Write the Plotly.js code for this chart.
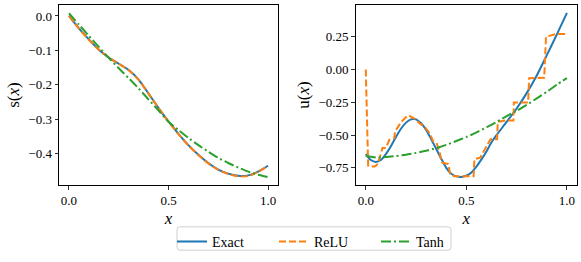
<!DOCTYPE html>
<html>
<head>
<meta charset="utf-8">
<script src="https://cdn.plot.ly/plotly-3.0.1.min.js"></script>
<style>html,body{margin:0;padding:0;background:#fff;}#chart{width:581px;height:262px;}</style>
</head>
<body>
<div id="chart"></div>
<script>
// Left panel: s(x)
const xsLeft = [0, 0.05, 0.1, 0.15, 0.2, 0.25, 0.3, 0.35, 0.4, 0.45, 0.5, 0.55, 0.6, 0.65, 0.7, 0.75, 0.8, 0.85, 0.9, 0.95, 1.0];
const sExact = [0, -0.036, -0.068, -0.098, -0.121, -0.139, -0.157, -0.185, -0.226, -0.268, -0.307, -0.343, -0.376, -0.404, -0.428, -0.447, -0.459, -0.465, -0.464, -0.453, -0.436];
const sRelu  = [0, -0.037, -0.069, -0.098, -0.121, -0.139, -0.158, -0.186, -0.226, -0.268, -0.308, -0.344, -0.377, -0.405, -0.429, -0.448, -0.460, -0.467, -0.466, -0.454, -0.436];
const sTanh  = [0.008, -0.025, -0.058, -0.090, -0.122, -0.152, -0.181, -0.211, -0.243, -0.275, -0.308, -0.332, -0.355, -0.376, -0.395, -0.413, -0.428, -0.441, -0.453, -0.462, -0.469];

// Right panel: u(x)
const xsExactR = [0, 0.025, 0.05, 0.075, 0.1, 0.125, 0.15, 0.175, 0.2, 0.225, 0.25, 0.275, 0.3, 0.325, 0.35, 0.375, 0.4, 0.425, 0.45, 0.475, 0.5, 0.525, 0.55, 0.575, 0.6, 0.625, 0.65, 0.7, 0.75, 0.8, 0.85, 0.9, 0.95, 1.0];
const uExact = [-0.645, -0.69, -0.705, -0.69, -0.645, -0.585, -0.515, -0.452, -0.405, -0.38, -0.38, -0.41, -0.46, -0.53, -0.605, -0.68, -0.75, -0.795, -0.815, -0.82, -0.81, -0.785, -0.74, -0.685, -0.625, -0.555, -0.50, -0.40, -0.297, -0.18, -0.045, 0.11, 0.268, 0.432];
const xsReluR = [0.0, 0.012, 0.02, 0.045, 0.06, 0.083, 0.1, 0.117, 0.142, 0.145, 0.176, 0.209, 0.225, 0.243, 0.268, 0.293, 0.318, 0.335, 0.352, 0.368, 0.377, 0.41, 0.419, 0.44, 0.536, 0.54, 0.569, 0.62, 0.653, 0.656, 0.695, 0.734, 0.736, 0.807, 0.812, 0.887, 0.896, 0.946, 0.995];
const uRelu = [0.0, -0.735, -0.74, -0.74, -0.72, -0.598, -0.598, -0.536, -0.523, -0.474, -0.40, -0.35, -0.36, -0.375, -0.412, -0.437, -0.487, -0.548, -0.56, -0.635, -0.709, -0.721, -0.795, -0.815, -0.815, -0.684, -0.672, -0.531, -0.531, -0.40, -0.388, -0.388, -0.252, -0.252, -0.067, -0.062, 0.25, 0.272, 0.272];
const xsTanhR = [0, 0.05, 0.1, 0.15, 0.2, 0.25, 0.3, 0.35, 0.4, 0.45, 0.5, 0.55, 0.6, 0.65, 0.7, 0.75, 0.8, 0.85, 0.9, 0.95, 1.0];
const uTanh = [-0.66, -0.671, -0.668, -0.66, -0.65, -0.636, -0.62, -0.60, -0.575, -0.545, -0.515, -0.48, -0.44, -0.40, -0.355, -0.315, -0.27, -0.22, -0.17, -0.115, -0.065];

const seriesNames = ['Exact', 'ReLU', 'Tanh'];
const colors = ['#1f77b4', '#ff7f0e', '#2ca02c'];
const dashes = ['solid', '7px,3px', '10px,3px,2px,3px'];

const FONT = 'Liberation Serif';

const traces = [
  {x: xsLeft, y: sExact, name: seriesNames[0], legendgroup: 'e', showlegend: true, xaxis: 'x', yaxis: 'y',
   mode: 'lines', line: {color: colors[0], width: 2, dash: dashes[0], shape: 'spline', smoothing: 0.6}},
  {x: xsLeft, y: sRelu, name: seriesNames[1], legendgroup: 'r', showlegend: true, xaxis: 'x', yaxis: 'y',
   mode: 'lines', line: {color: colors[1], width: 2, dash: dashes[1], shape: 'spline', smoothing: 0.6}},
  {x: xsLeft, y: sTanh, name: seriesNames[2], legendgroup: 't', showlegend: true, xaxis: 'x', yaxis: 'y',
   mode: 'lines', line: {color: colors[2], width: 2, dash: dashes[2], shape: 'spline', smoothing: 0.6}},
  {x: xsExactR, y: uExact, name: seriesNames[0], legendgroup: 'e', showlegend: false, xaxis: 'x2', yaxis: 'y2',
   mode: 'lines', line: {color: colors[0], width: 2, dash: dashes[0], shape: 'spline', smoothing: 0.6}},
  {x: xsReluR, y: uRelu, name: seriesNames[1], legendgroup: 'r', showlegend: false, xaxis: 'x2', yaxis: 'y2',
   mode: 'lines', line: {color: colors[1], width: 2, dash: dashes[1]}},
  {x: xsTanhR, y: uTanh, name: seriesNames[2], legendgroup: 't', showlegend: false, xaxis: 'x2', yaxis: 'y2',
   mode: 'lines', line: {color: colors[2], width: 2, dash: dashes[2], shape: 'spline', smoothing: 0.6}}
];

const axisCommon = {
  showline: true, mirror: true, linecolor: '#000', linewidth: 1,
  showgrid: false, zeroline: false,
  ticks: 'outside', ticklen: 3.5, tickwidth: 0.8, tickcolor: '#000',
  tickfont: {family: FONT, size: 13, color: '#000'}
};

// legend frame (rounded rectangle) in paper coordinates of the plot area
const M = {l: 59, r: 4, t: 5, b: 72};
const PW = 581 - M.l - M.r, PH = 262 - M.t - M.b;
function px2x(p) { return (p - M.l) / PW; }
function py2y(p) { return (262 - M.b - p) / PH; }
function roundRect(x0, y0, x1, y1, r) {
  const X = px2x, Y = py2y;
  return 'M' + X(x0 + r) + ',' + Y(y0) +
    ' L' + X(x1 - r) + ',' + Y(y0) + ' Q' + X(x1) + ',' + Y(y0) + ' ' + X(x1) + ',' + Y(y0 + r) +
    ' L' + X(x1) + ',' + Y(y1 - r) + ' Q' + X(x1) + ',' + Y(y1) + ' ' + X(x1 - r) + ',' + Y(y1) +
    ' L' + X(x0 + r) + ',' + Y(y1) + ' Q' + X(x0) + ',' + Y(y1) + ' ' + X(x0) + ',' + Y(y1 - r) +
    ' L' + X(x0) + ',' + Y(y0 + r) + ' Q' + X(x0) + ',' + Y(y0) + ' ' + X(x0 + r) + ',' + Y(y0) + ' Z';
}

const layout = {
  width: 581, height: 262,
  margin: M,
  paper_bgcolor: '#fff', plot_bgcolor: '#fff',
  font: {family: FONT, size: 13, color: '#000'},
  xaxis: Object.assign({}, axisCommon, {domain: [0, px2x(278)], range: [-0.05, 1.05], dtick: 0.5, tick0: 0, tickformat: '.1f',
    title: {text: '<i>x</i>', font: {family: FONT, size: 17}, standoff: 5}}),
  yaxis: Object.assign({}, axisCommon, {domain: [0, 1], range: [-0.492, 0.032], dtick: 0.1, tick0: 0, tickformat: '.1f',
    title: {text: 's(<i>x</i>)', font: {family: FONT, size: 17}, standoff: 4}}),
  xaxis2: Object.assign({}, axisCommon, {domain: [px2x(355.7), 1], range: [-0.05, 1.05], dtick: 0.5, tick0: 0, tickformat: '.1f', anchor: 'y2',
    title: {text: '<i>x</i>', font: {family: FONT, size: 17}, standoff: 5}}),
  yaxis2: Object.assign({}, axisCommon, {domain: [0, 1], range: [-0.881, 0.4926], dtick: 0.25, tick0: 0, tickformat: '.2f', anchor: 'x2',
    title: {text: 'u(<i>x</i>)', font: {family: FONT, size: 17}, standoff: 4}}),
  shapes: [{type: 'path', xref: 'paper', yref: 'paper', path: roundRect(177, 233, 451, 257, 3),
    line: {color: '#d0d0d0', width: 1}, fillcolor: 'rgba(255,255,255,0.8)', layer: 'above'}],
  showlegend: true,
  legend: {orientation: 'h', x: px2x(172), xanchor: 'left', y: py2y(232), yanchor: 'top',
    bgcolor: 'rgba(0,0,0,0)', borderwidth: 0,
    font: {family: FONT, size: 14, color: '#000'}, entrywidth: 57, entrywidthmode: 'pixels'}
};

Plotly.newPlot('chart', traces, layout, {staticPlot: true, displayModeBar: false});
</script>
</body>
</html>
